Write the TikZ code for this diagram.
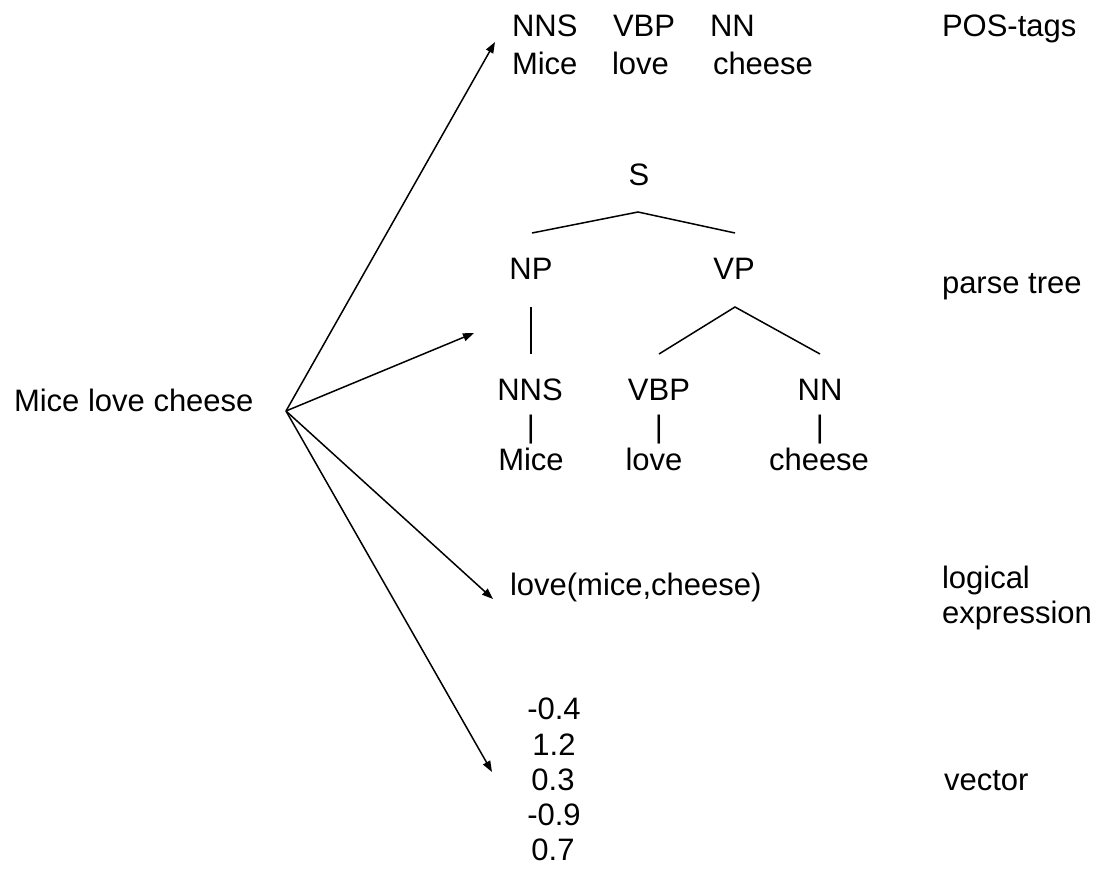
\documentclass[tikz,border=0pt]{standalone}
\usepackage{fontspec}
\setmainfont{Liberation Sans}
\usetikzlibrary{arrows.meta}
\begin{document}
\begin{tikzpicture}[x=1pt,y=-1pt,
  every node/.style={inner sep=0pt,outer sep=0pt,font=\fontsize{31}{35.6}\selectfont},
  lbl/.style={anchor=base west},
  tag/.style={anchor=base},
  branch/.style={line width=1.5pt},
  link/.style={line width=1.5pt,-{Triangle[length=11pt,width=8pt]}}]
\useasboundingbox (0,0) rectangle (1099,872);

% input sentence
\node[lbl] (sent) at (14,411) {Mice love cheese};
\coordinate (src) at (286,411);

% POS-tagged sentence
\node[lbl] (t1) at (512,37) {NNS};
\node[lbl] (t2) at (613,37) {VBP};
\node[lbl] (t3) at (710,37) {NN};
\node[lbl] (w1) at (512,75) {Mice};
\node[lbl] (w2) at (612,75) {love};
\node[lbl] (w3) at (713,75) {cheese};
\node[lbl] (cap1) at (942,37) {POS-tags};

% parse tree
\node[tag] (S) at (639,185) {S};
\node[tag] (NP) at (531,279) {NP};
\node[tag] (VP) at (734,279) {VP};
\node[tag] (NNS) at (530,400) {NNS};
\node[tag] (VBP) at (659,400) {VBP};
\node[tag] (NN) at (820,400) {NN};
\node[tag] (p1) at (531,437) {|};
\node[tag] (p2) at (659,437) {|};
\node[tag] (p3) at (820,437) {|};
\node[tag] (m1) at (531,470) {Mice};
\node[tag] (m2) at (654,470) {love};
\node[tag] (m3) at (819,470) {cheese};
\node[lbl] (cap2) at (942,293) {parse tree};

\coordinate (Sb) at (638,212);
\coordinate (Sl) at (532,233);
\coordinate (Sr) at (735,233);
\coordinate (NPb) at (531,307);
\coordinate (NNSt) at (531,354);
\coordinate (VPb) at (735,307);
\coordinate (VBPt) at (659,354);
\coordinate (NNt) at (820,354);
\draw[branch] (Sl) -- (Sb) -- (Sr);
\draw[branch] (NPb) -- (NNSt);
\draw[branch] (VBPt) -- (VPb) -- (NNt);

% logical form
\node[lbl] (lf) at (510,595) {love(mice,cheese)};
\node[lbl] (cap3) at (942,588) {logical};
\node[lbl] (cap3b) at (942,623) {expression};

% vector
\node[tag] (v1) at (554,719) {-0.4};
\node[tag] (v2) at (554,755) {1.2};
\node[tag] (v3) at (553,790) {0.3};
\node[tag] (v4) at (554,825) {-0.9};
\node[tag] (v5) at (553,860) {0.7};
\node[lbl] (cap4) at (944,790) {vector};

% arrows from the sentence to each representation
\coordinate (a1) at (495,42);
\coordinate (a2) at (474,333);
\coordinate (a3) at (493,599);
\coordinate (a4) at (492,772);
\draw[link] (src) -- (a1);
\draw[link] (src) -- (a2);
\draw[link] (src) -- (a3);
\draw[link] (src) -- (a4);
\end{tikzpicture}
\end{document}
